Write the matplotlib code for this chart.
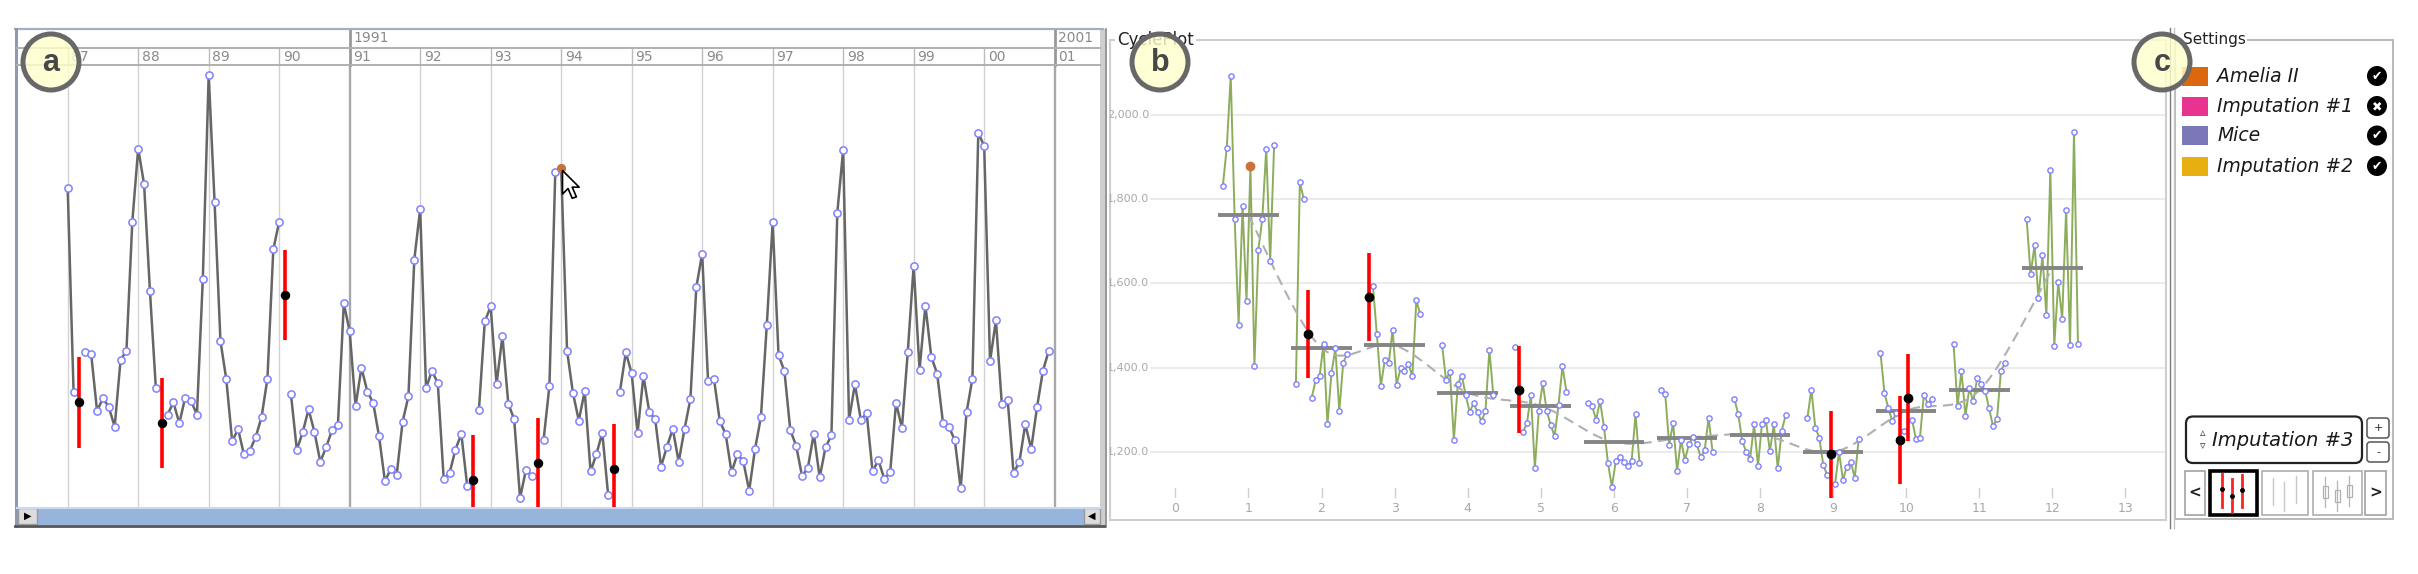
import numpy as np
import matplotlib
matplotlib.use("Agg")
import matplotlib.pyplot as plt
import matplotlib.transforms as mtransforms
from matplotlib.patches import Rectangle, Circle, FancyBboxPatch
from matplotlib.path import Path

nan = np.nan

# monthly series, Jan..Dec per row, 1987..2000 (nan = missing, imputed below)
values = [
    1831, 1362, nan, 1454, 1448, 1317, 1347, 1326, 1281, 1435, 1456, 1753,  # 1987
    1922, 1840, 1594, 1371, nan, 1309, 1337, 1289, 1348, 1340, 1309, 1621,  # 1988
    2092, 1799, 1479, 1390, 1247, 1276, 1217, 1226, 1257, 1303, 1392, 1690,  # 1989
    1753, nan, 1356, 1228, 1268, 1321, 1269, 1200, 1234, 1273, 1286, 1565,  # 1990
    1501, 1328, 1417, 1362, 1336, 1259, 1155, 1184, 1170, 1292, 1351, 1666,  # 1991
    1783, 1370, 1410, 1381, 1161, 1174, 1228, 1265, 1145, nan, 1320, 1524,  # 1992
    1558, 1379, 1490, 1334, 1298, 1117, 1181, 1167, nan, 1250, 1375, 1869,  # 1993
    1878, 1456, 1359, 1295, 1363, 1178, 1218, 1267, 1123, nan, 1362, 1452,  # 1994
    1404, 1266, 1398, 1315, 1298, 1189, 1235, 1276, 1200, 1276, 1345, 1602,  # 1995
    1680, 1386, 1392, 1294, 1264, 1176, 1218, 1201, 1134, 1230, 1303, 1515,  # 1996
    1752, 1446, 1409, 1273, 1237, 1167, 1187, 1265, 1164, 1234, 1261, 1774,  # 1997
    1919, 1297, 1379, 1297, 1312, 1178, 1204, 1161, 1176, 1336, 1278, 1454,  # 1998
    1652, 1412, 1560, 1442, 1403, 1289, 1281, 1250, 1139, 1314, 1392, 1958,  # 1999
    1928, 1432, 1526, 1334, 1343, 1174, 1200, 1287, 1230, 1326, 1410, 1456,  # 2000
]
start_year = 1987

# imputed values for the missing months
imp_year = [1987, 1988, 1990, 1992, 1993, 1994]
imp_month = [3, 5, 2, 10, 9, 10]
imp_a = [1337, 1290, 1585, 1159, 1198, 1184]   # shown in the time series
imp_b = [1567, 1348, 1479, 1228, 1194, 1329]   # shown in the cycle plot
imp_err = 104

hover_year, hover_month = 1994, 1

cycle_yticks = [1200, 1400, 1600, 1800, 2000]
cycle_xticks = list(range(0, 14))

methods = ["Amelia II", "Imputation #1", "Mice", "Imputation #2"]
method_colors = ["#d95f02", "#e7298a", "#7570b3", "#e6ab02"]
method_on = [True, False, True, True]

W, H = 2418, 574
fig = plt.figure(figsize=(W / 100, H / 100), dpi=100)


def px_axes(x0, y0, x1, y1, **kw):
    return fig.add_axes([x0 / W, 1 - y1 / H, (x1 - x0) / W, (y1 - y0) / H], **kw)


def bare(ax):
    for s in ax.spines.values():
        s.set_visible(False)
    ax.set_xticks([])
    ax.set_yticks([])


def cardinal(xp, yp, n=25):
    xp = np.concatenate([[xp[0]], xp, [xp[-1]]])
    yp = np.concatenate([[yp[0]], yp, [yp[-1]]])
    xs, ys = [], []
    s = np.linspace(0, 1, n)
    h00 = 2 * s**3 - 3 * s**2 + 1
    h10 = s**3 - 2 * s**2 + s
    h01 = -2 * s**3 + 3 * s**2
    h11 = s**3 - s**2
    for i in range(1, len(xp) - 2):
        for p, out in ((xp, xs), (yp, ys)):
            m1 = (p[i + 1] - p[i - 1]) / 2
            m2 = (p[i + 2] - p[i]) / 2
            out.extend(h00 * p[i] + h10 * m1 + h01 * p[i + 1] + h11 * m2)
    return np.array(xs), np.array(ys)


vals = np.array(values, dtype=float)
nyears = len(vals) // 12
t = start_year + np.arange(len(vals)) / 12
t_imp = np.array([y + (m - 1) / 12 for y, m in zip(imp_year, imp_month)])
hover_idx = (hover_year - start_year) * 12 + hover_month - 1

# ---------------- panel a: time series ----------------
ax_a = px_axes(17, 65, 1100, 507)
bare(ax_a)
xt = ax_a.get_xaxis_transform()
for yr in range(start_year, start_year + nyears + 1):
    major = yr % 10 == 1
    gc = "#a8a8a8" if major else "#d2d2d2"
    ax_a.axvline(yr, color=gc, lw=1.7 if major else 1.0, zorder=1)
    ax_a.plot([yr, yr], [1.0, 1.082 if major else 1.0385], transform=xt,
              color="#999999" if major else "#bbbbbb", lw=2.0 if major else 1.0,
              clip_on=False)
    ax_a.text(yr + 0.05, 1.019, f"{yr % 100:02d}", transform=xt, fontsize=10,
              color="#8a8a8a", ha="left", va="center", clip_on=False)
    if major:
        ax_a.text(yr + 0.05, 1.061, str(yr), transform=xt, fontsize=10,
                  color="#8a8a8a", ha="left", va="center", clip_on=False)

ax_a.plot(t, vals, color="#666666", lw=1.8, zorder=3)
ax_a.plot(t, vals, "o", ms=5.2, mfc="white", mec="#8080ff", mew=1.1, zorder=4)
ax_a.vlines(t_imp, np.array(imp_a) - imp_err, np.array(imp_a) + imp_err,
            color="#ff0000", lw=2.6, zorder=5)
ax_a.plot(t_imp, imp_a, "o", color="black", ms=5.8, zorder=6)
ax_a.plot(t[hover_idx], vals[hover_idx], "o", color="#c8743c", ms=5.5, zorder=7)
cursor = Path([(0, 0), (0, -17), (4, -13), (7, -20), (10, -19), (7, -12), (12, -12), (0, 0)],
              [Path.MOVETO] + [Path.LINETO] * 6 + [Path.CLOSEPOLY])
ax_a.plot(t[hover_idx] + 0.01, vals[hover_idx] - 5, marker=cursor, ms=40, mfc="white",
          mec="black", mew=1.2, zorder=9, clip_on=False)
ax_a.set_xlim(1986.281, 2001.643)
ax_a.set_ylim(1096, 2114.4)

# ---------------- panel b: cycle plot ----------------
ax_b = px_axes(1110, 40, 2166, 520)
ax_b.set_xticks([])
ax_b.set_yticks([])
for s in ax_b.spines.values():
    s.set_color("#cfcfcf")
    s.set_linewidth(1.5)
bt = mtransforms.blended_transform_factory(ax_b.transAxes, ax_b.transData)
for v in cycle_yticks:
    ax_b.axhline(v, xmin=0.039, xmax=1, color="#e8e8e8", lw=1.2, zorder=0)
    ax_b.text(0.0369, v, f"{v:,.1f}", transform=bt, ha="right", va="center",
              fontsize=8, color="#a8a8a8", clip_on=True)
bx = ax_b.get_xaxis_transform()
for k in cycle_xticks:
    ax_b.plot([k, k], [0.048, 0.067], transform=bx, color="#d0d0d0", lw=1)
    ax_b.text(k, 0.025, str(k), transform=bx, ha="center", va="center",
              fontsize=9, color="#a8a8a8")

spread = 0.054
offs = (np.arange(nyears) - (nyears - 1) / 2) * spread
filled = vals.copy()
for y, m, v in zip(imp_year, imp_month, imp_b):
    filled[(y - start_year) * 12 + m - 1] = v
means = np.array([np.mean(filled[m::12]) for m in range(12)])
months = np.arange(1, 13)
for m in months:
    xs = m + offs
    ax_b.plot(xs, vals[m - 1::12], color="#8cad5c", lw=1.4, zorder=2)
    ax_b.hlines(means[m - 1], m - 0.415, m + 0.415, color="#858585", lw=2.8, zorder=3)
    ax_b.plot(xs, vals[m - 1::12], "o", ms=3.8, mfc="white", mec="#8080ff", mew=1.0, zorder=5)
sx, sy = cardinal(months.astype(float), means)
ax_b.plot(sx, sy, color="#b0b0b0", lw=1.5, ls=(0, (5, 3)), zorder=2.5)
xb_imp = np.array([m + offs[y - start_year] for y, m in zip(imp_year, imp_month)])
ax_b.vlines(xb_imp, np.array(imp_b) - imp_err, np.array(imp_b) + imp_err,
            color="#ff0000", lw=2.6, zorder=6)
ax_b.plot(xb_imp, imp_b, "o", color="black", ms=6, zorder=7)
ax_b.plot(hover_month + offs[hover_year - start_year], vals[hover_idx], "o",
          color="#c8743c", ms=6, zorder=7)
ax_b.set_xlim(-0.895, 13.556)
ax_b.set_ylim(1038.4, 2177.2)

# ---------------- UI overlay (frames, controls, labels) ----------------
ui = fig.add_axes([0, 0, 1, 1])
ui.set_xlim(0, W)
ui.set_ylim(H, 0)
ui.axis("off")
ui.patch.set_visible(False)
ui.set_zorder(5)

# panel a frame, header and scrollbar
ui.plot([15, 1103], [29, 29], color="#a3afc0", lw=1.6)
ui.plot([16, 16], [29, 526], color="#8d9ab0", lw=2.2)
ui.plot([17, 1100], [48, 48], color="#b0b0b0", lw=1.4)
ui.plot([17, 1100], [65, 65], color="#b0b0b0", lw=1.4)
ui.add_patch(Rectangle((1100, 29), 7, 498, fc="#cfcfcf", ec="none"))
ui.plot([1106, 1106], [29, 527], color="#8f8f8f", lw=1.2)
ui.add_patch(Rectangle((17, 507), 1083, 18, fc="#97b4dc", ec="none"))
ui.plot([17, 1100], [507.5, 507.5], color="#c9d9ef", lw=1.5)
ui.add_patch(Rectangle((18, 508), 19, 16, fc="#dcdcdc", ec="#9a9a9a", lw=1))
ui.add_patch(Rectangle((1084, 508), 16, 16, fc="#dcdcdc", ec="#9a9a9a", lw=1))
ui.text(27.5, 516, "▶", fontsize=7, ha="center", va="center", color="black")
ui.text(1092, 516, "◀", fontsize=7, ha="center", va="center", color="black")
ui.plot([15, 1104], [525.5, 525.5], color="#555555", lw=2.0)

# panel b title
ui.text(1117, 40, "CyclePlot", fontsize=12, ha="left", va="center", color="#222222",
        bbox=dict(fc="white", ec="none", pad=1.5), zorder=2)

# separators between b and c
ui.plot([2169.5, 2169.5], [28, 528], color="#7a7a7a", lw=1.0)
ui.plot([2173.5, 2173.5], [28, 528], color="#c4c4c4", lw=1.0)

# panel c: settings
ui.add_patch(Rectangle((2175, 39.5), 218, 479.5, fc="none", ec="#b3b3b3", lw=1.3))
ui.text(2183, 39.5, "Settings", fontsize=11, ha="left", va="center", color="#222222",
        bbox=dict(fc="white", ec="none", pad=0.8), zorder=2)
row_y = [76, 106, 135.5, 166]
for name, col, on, ry in zip(methods, method_colors, method_on, row_y):
    ui.add_patch(Rectangle((2182, ry - 9.5), 26, 19, fc=col, ec="none", alpha=0.95))
    ui.text(2217, ry, name, fontsize=13.5, style="oblique", ha="left", va="center",
            color="#1a1a1a")
    ui.add_patch(Circle((2377, ry), 10, fc="black", ec="none"))
    ui.text(2377, ry + 0.5, "✔" if on else "✖", fontsize=9, ha="center", va="center",
            color="white", fontweight="bold")

ui.add_patch(FancyBboxPatch((2186, 416.5), 176, 46.5, boxstyle="round,pad=0,rounding_size=7",
                            fc="white", ec="#222222", lw=1.6))
ui.text(2203, 433, "▵", fontsize=8, ha="center", va="center", color="#333333")
ui.text(2203, 446, "▿", fontsize=8, ha="center", va="center", color="#333333")
ui.text(2212, 440, "Imputation #3", fontsize=14, style="oblique", ha="left", va="center",
        color="#1a1a1a")
for y0, sym in ((418, "+"), (442, "-")):
    ui.add_patch(FancyBboxPatch((2367, y0), 22, 20, boxstyle="round,pad=0,rounding_size=3",
                                fc="white", ec="#555555", lw=1.1))
    ui.text(2378, y0 + 10, sym, fontsize=8, ha="center", va="center", color="#222222")

# chart-type picker
for x0, x1 in ((2185, 2205), (2365, 2386)):
    ui.add_patch(Rectangle((x0, 471), x1 - x0, 44, fc="white", ec="#9a9a9a", lw=1.1))
ui.text(2195, 493, "<", fontsize=11, ha="center", va="center", fontweight="bold", color="#222")
ui.text(2375.5, 493, ">", fontsize=11, ha="center", va="center", fontweight="bold", color="#222")
ui.add_patch(Rectangle((2210, 471), 47, 44, fc="white", ec="black", lw=2.6))
for lx, ly0, ly1, dy in ((2221.5, 474, 507, 489), (2231.5, 479, 512, 496), (2242, 475, 507, 490)):
    ui.plot([lx, lx], [ly0, ly1], color="#ff2020", lw=2.0)
    ui.plot(lx, dy, "o", color="black", ms=2.5)
ui.add_patch(Rectangle((2262, 471), 46, 44, fc="white", ec="#a8a8a8", lw=1.1))
for lx, ly0, ly1 in ((2273, 478, 505), (2284, 482, 511), (2296, 476, 503)):
    ui.plot([lx, lx], [ly0, ly1], color="#c8c8c8", lw=1.0)
ui.add_patch(Rectangle((2313, 471), 49, 44, fc="white", ec="#a8a8a8", lw=1.1))
for lx, ly0, ly1 in ((2325, 477, 507), (2337, 481, 511), (2349, 476, 506)):
    ui.plot([lx, lx], [ly0, ly1], color="#b5b5b5", lw=0.9)
    ui.add_patch(Rectangle((lx - 2.5, ly0 + 9), 5, 12, fc="white", ec="#b0b0b0", lw=0.9))

# panel badges
for cx, letter in ((51, "a"), (1160, "b"), (2162, "c")):
    ui.add_patch(Circle((cx, 62), 28, fc=(1, 1, 0.8, 0.82), ec="#686868", lw=3.6, zorder=8))
    ui.text(cx, 63, letter, fontsize=22, fontweight="bold", family="Liberation Sans",
            ha="center", va="center", color="#474747", zorder=9)

fig.savefig("out.png", dpi=100)
